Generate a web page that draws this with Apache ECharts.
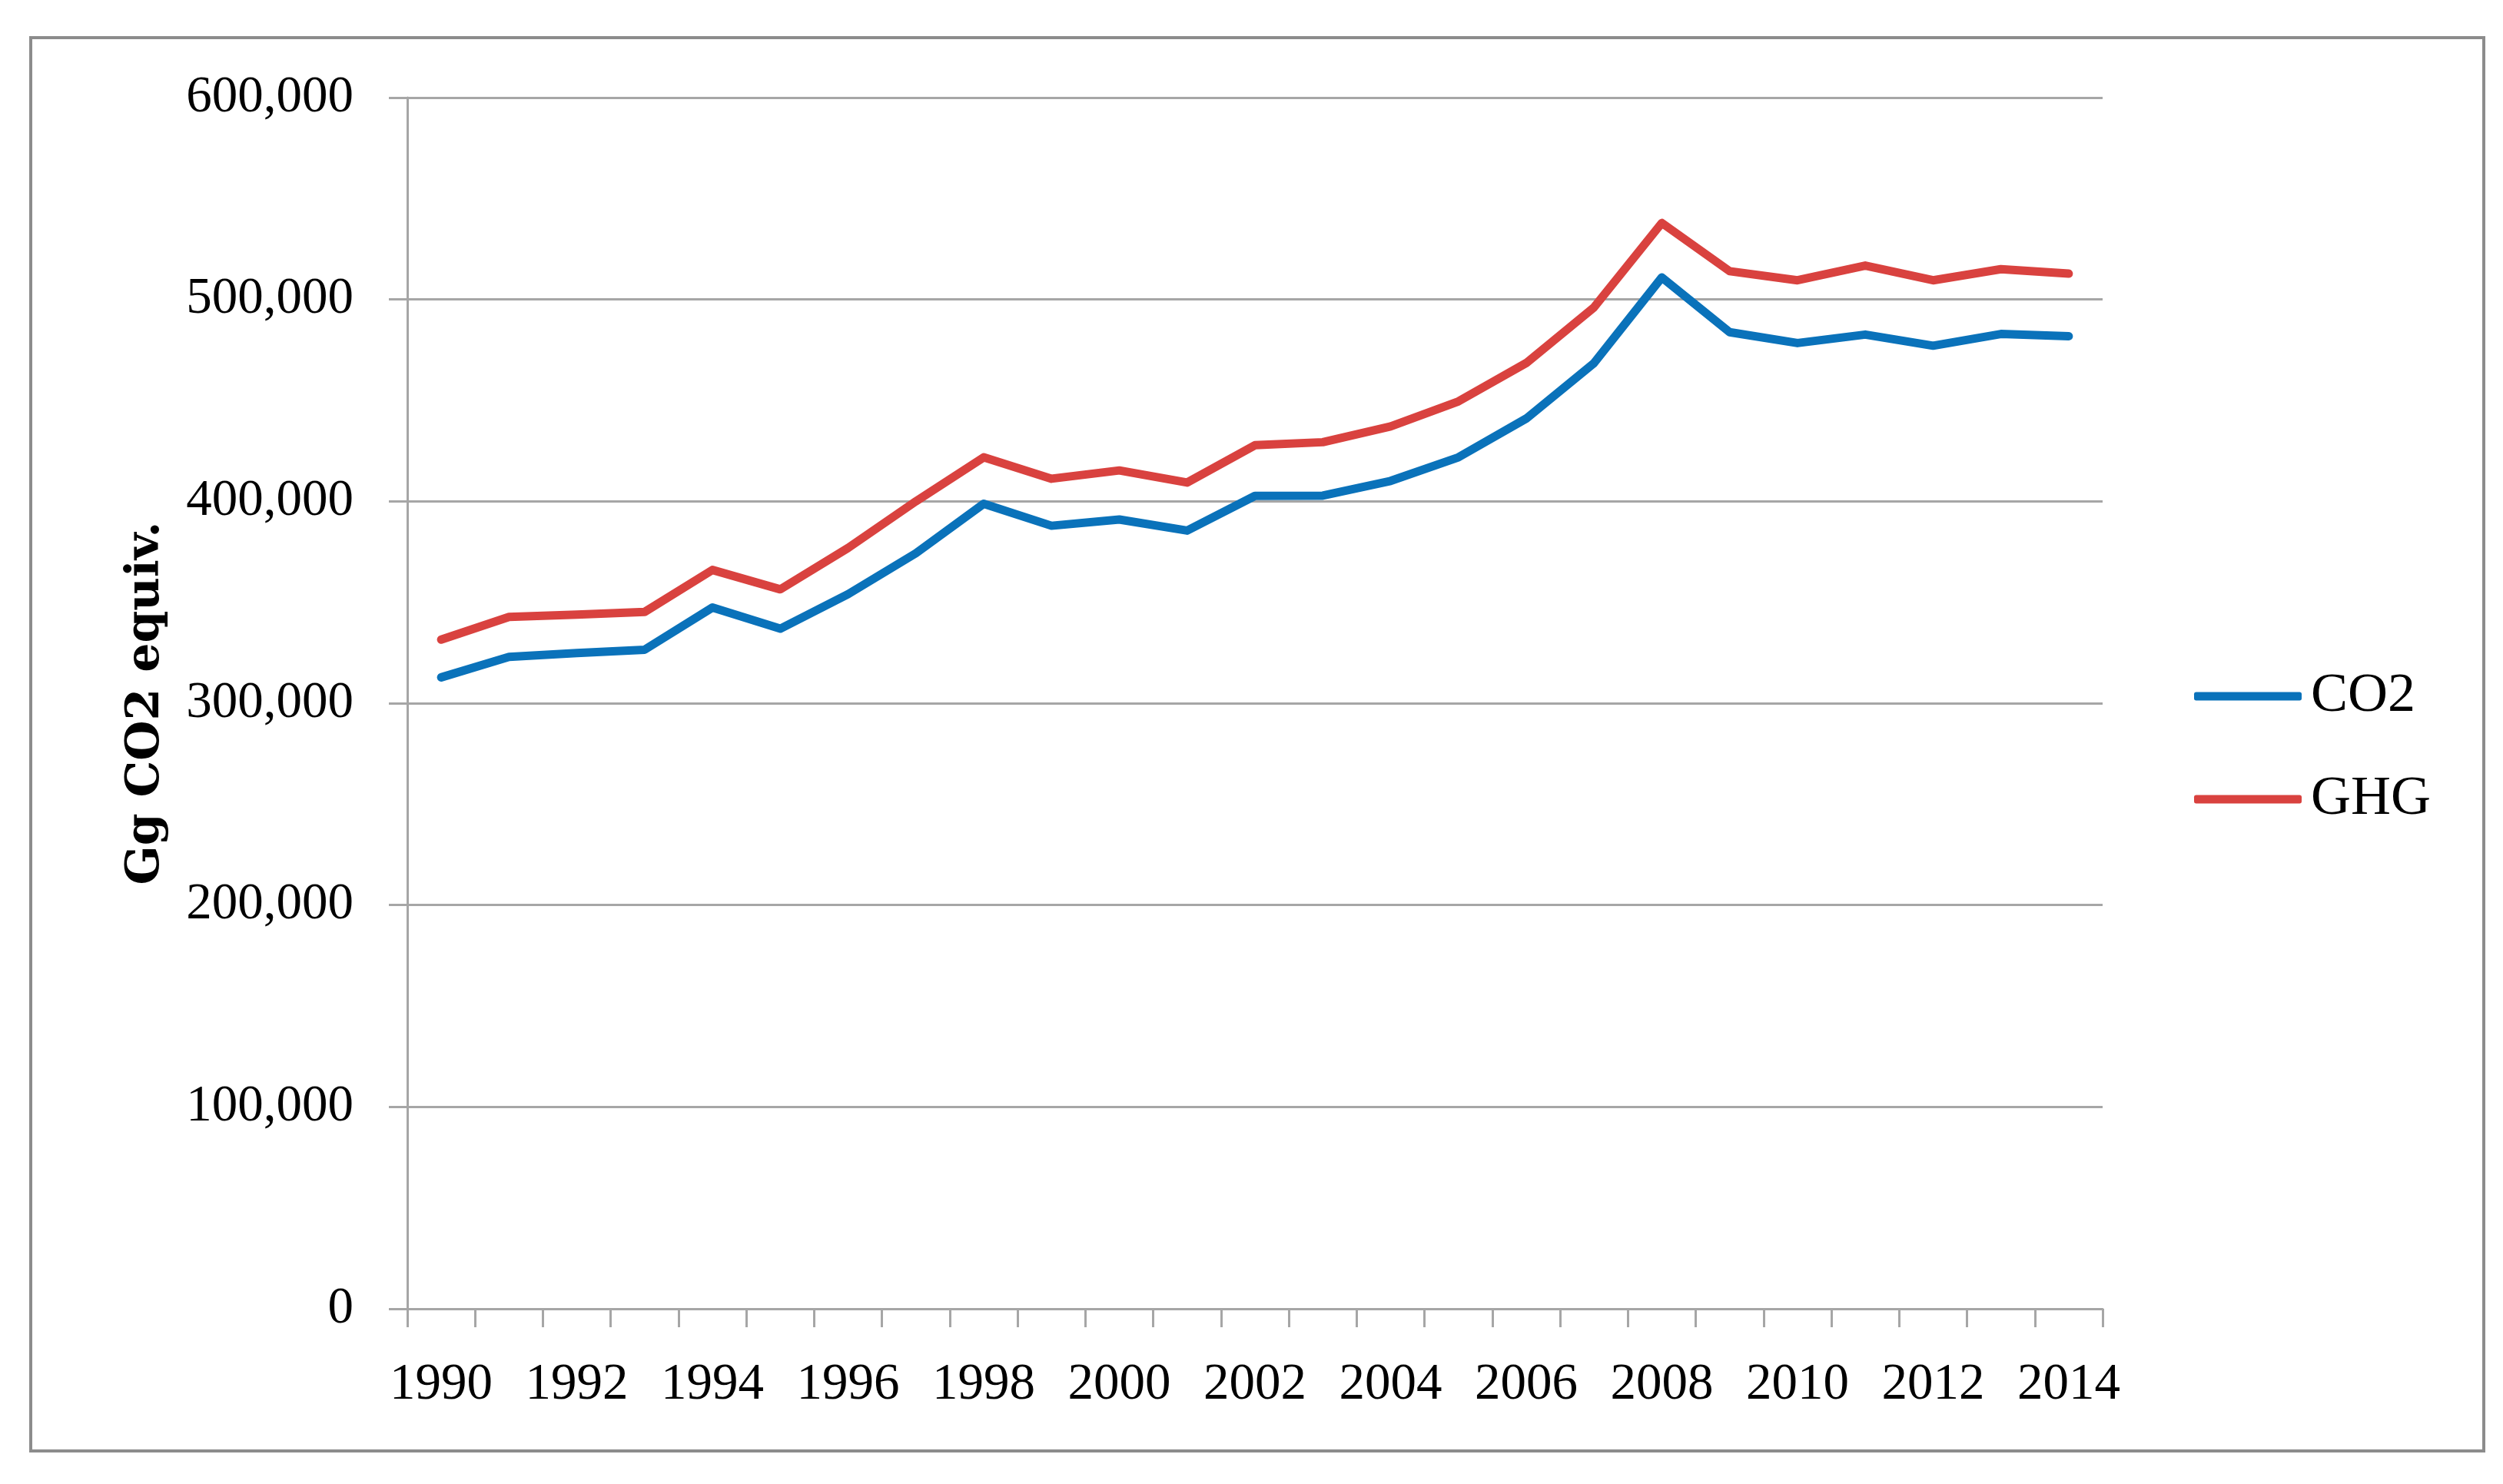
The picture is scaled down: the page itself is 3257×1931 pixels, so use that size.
<!DOCTYPE html>
<html>
<head>
<meta charset="utf-8">
<script src="https://cdn.jsdelivr.net/npm/echarts@6/dist/echarts.min.js"></script>
<style>
  html, body { margin: 0; padding: 0; background: #ffffff; }
  #chart { width: 3257px; height: 1931px; }
</style>
</head>
<body>
<div id="chart"></div>
<script>
const years = ['1990','1991','1992','1993','1994','1995','1996','1997','1998','1999','2000','2001','2002','2003','2004','2005','2006','2007','2008','2009','2010','2011','2012','2013','2014'];
const co2 = [312800, 322900, 324800, 326500, 347400, 336900, 354000, 374300, 398800, 387900, 391000, 385500, 402700, 402800, 410100, 421800, 441000, 468500, 510900, 483800, 478400, 482600, 477100, 482900, 481800];
const ghg = [331500, 342700, 343900, 345200, 366000, 356400, 376900, 400000, 421800, 411200, 415300, 409300, 427800, 429300, 437100, 449500, 468500, 496100, 537900, 514000, 509500, 516800, 509500, 515000, 512800];
const seriesNames = ['CO2', 'GHG'];
const yAxisName = 'Gg CO2 equiv.';
const yMin = 0, yMax = 600000, yStep = 100000;

const FONT = "'Liberation Serif', 'Times New Roman', serif";
const GRAY = '#a6a6a6';
const chart = echarts.init(document.getElementById('chart'), null, { renderer: 'canvas' });
chart.setOption({
  backgroundColor: '#ffffff',
  animation: false,
  graphic: [{
    type: 'rect',
    shape: { x: 40, y: 49, width: 3192, height: 1839 },
    style: { fill: 'none', stroke: '#8c8c8c', lineWidth: 4 },
    silent: true
  }],
  grid: { left: 530, right: 521, top: 127, bottom: 228, containLabel: false },
  legend: {
    orient: 'vertical',
    left: 2850,
    top: 865,
    itemWidth: 140,
    itemHeight: 11,
    itemGap: 62,
    icon: 'roundRect',
    data: seriesNames,
    textStyle: { fontFamily: FONT, fontSize: 72, color: '#000', lineHeight: 72, padding: [0, 0, 0, 7] }
  },
  xAxis: {
    type: 'category',
    data: years,
    boundaryGap: true,
    axisLine: { show: true, lineStyle: { color: GRAY, width: 3 } },
    axisTick: { show: true, interval: 0, length: 24, lineStyle: { color: GRAY, width: 3 } },
    axisLabel: { interval: 1, margin: 66, fontFamily: FONT, fontSize: 67, color: '#000' },
    splitLine: { show: false }
  },
  yAxis: {
    type: 'value',
    min: yMin, max: yMax, interval: yStep,
    name: yAxisName,
    nameLocation: 'middle',
    nameGap: 310,
    nameRotate: 90,
    nameTextStyle: { fontFamily: "'DejaVu Serif', serif", fontSize: 60, fontWeight: 'bold', color: '#000' },
    axisLine: { show: true, lineStyle: { color: GRAY, width: 3 } },
    axisTick: { show: true, length: 24, lineStyle: { color: GRAY, width: 3 } },
    axisLabel: { margin: 70, fontFamily: FONT, fontSize: 67, color: '#000',
      formatter: v => v.toLocaleString('en-US') },
    splitLine: { show: true, lineStyle: { color: GRAY, width: 3 } }
  },
  series: [
    { name: seriesNames[0], type: 'line', data: co2, showSymbol: false, symbol: 'none',
      lineStyle: { color: '#0a72ba', width: 11, cap: 'round', join: 'round' },
      itemStyle: { color: '#0a72ba' } },
    { name: seriesNames[1], type: 'line', data: ghg, showSymbol: false, symbol: 'none',
      lineStyle: { color: '#d9423f', width: 11, cap: 'round', join: 'round' },
      itemStyle: { color: '#d9423f' } }
  ]
});
</script>
</body>
</html>
